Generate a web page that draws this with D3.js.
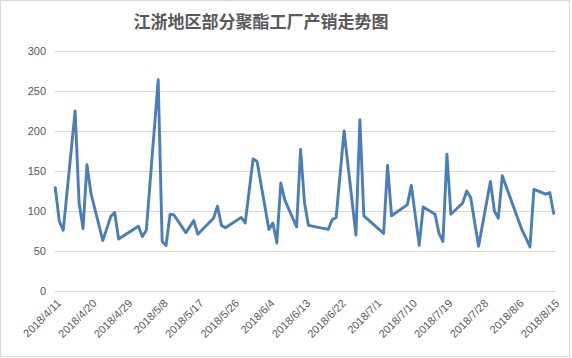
<!DOCTYPE html>
<html><head><meta charset="utf-8">
<script src="https://cdn.jsdelivr.net/npm/d3@7"></script>
<style>body{margin:0;background:#fff}</style>
</head><body>
<svg id="c" width="572" height="358"></svg>
<script>
const title = "江浙地区部分聚酯工厂产销走势图";
const dates = ["2018-04-11","2018-04-11","2018-04-12","2018-04-13","2018-04-16","2018-04-17","2018-04-18","2018-04-19","2018-04-20","2018-04-23","2018-04-25","2018-04-26","2018-04-27","2018-05-02","2018-05-03","2018-05-04","2018-05-07","2018-05-08","2018-05-09","2018-05-10","2018-05-11","2018-05-14","2018-05-16","2018-05-17","2018-05-21","2018-05-22","2018-05-23","2018-05-24","2018-05-28","2018-05-29","2018-05-31","2018-06-01","2018-06-04","2018-06-05","2018-06-06","2018-06-07","2018-06-08","2018-06-11","2018-06-12","2018-06-13","2018-06-14","2018-06-19","2018-06-20","2018-06-21","2018-06-23","2018-06-26","2018-06-27","2018-06-28","2018-07-03","2018-07-04","2018-07-05","2018-07-09","2018-07-10","2018-07-12","2018-07-13","2018-07-16","2018-07-17","2018-07-18","2018-07-19","2018-07-20","2018-07-23","2018-07-24","2018-07-25","2018-07-27","2018-07-30","2018-07-31","2018-08-01","2018-08-02","2018-08-07","2018-08-08","2018-08-09","2018-08-10","2018-08-13","2018-08-14","2018-08-15"];
const values = [124,129,87,76,225,110,78,158,122,63,93,98,65,81,68,76,264,62,57,96,95,73,88,71,91,106,82,79,92,85,165,162,77,85,60,135,114,80,177,110,82,77,89,92,200,70,214,94,72,157,94,108,132,57,105,96,72,62,171,96,110,125,117,56,137,100,91,144,76,66,55,127,121,123,97];
const xTickLabels = ["2018/4/11","2018/4/20","2018/4/29","2018/5/8","2018/5/17","2018/5/26","2018/6/4","2018/6/13","2018/6/22","2018/7/1","2018/7/10","2018/7/19","2018/7/28","2018/8/6","2018/8/15"];
const yTicks = [0,50,100,150,200,250,300];

const parse = s => { const [y,m,d] = s.split(/[-\/]/).map(Number); return new Date(Date.UTC(y,m-1,d)); };
const data = dates.map((d,i)=>({date:parse(d), v:values[i]}));
const svg = d3.select("#c");
const font = "'Liberation Sans', Arial, sans-serif";

svg.append("rect").attr("x",0.5).attr("y",0.5).attr("width",569).attr("height",356)
  .attr("fill","#fff").attr("stroke","#d9d9d9");

const x = d3.scaleUtc().domain([parse(xTickLabels[0]), parse(xTickLabels[xTickLabels.length-1])]).range([55.35,553.7]);
const y = d3.scaleLinear().domain([0,300]).range([291,51]);

// gridlines
svg.append("g").selectAll("line").data(yTicks).join("line")
  .attr("x1",55).attr("x2",556).attr("y1",d=>y(d)).attr("y2",d=>y(d))
  .attr("stroke","#d9d9d9").attr("stroke-width",1).attr("shape-rendering","crispEdges");

// y axis labels
const yAxis = d3.axisLeft(y).tickValues(yTicks).tickSize(0).tickPadding(0);
const gy = svg.append("g").attr("transform","translate(46,0)").call(yAxis);
gy.select(".domain").remove();
gy.selectAll("text").attr("font-family",font).attr("font-size",11).attr("fill","#595959");

// x axis labels
const xAxis = d3.axisBottom(x).tickValues(xTickLabels.map(parse)).tickSize(0).tickFormat((d,i)=>xTickLabels[i]);
const gx = svg.append("g").attr("transform","translate(0,291)").call(xAxis);
gx.select(".domain").remove();
gx.selectAll(".tick text").attr("font-family",font).attr("font-size",11).attr("fill","#595959")
  .attr("text-anchor","end").attr("dy",0).attr("y",0)
  .attr("transform","translate(6,13) rotate(-45)");

// line
const line = d3.line().x(d=>x(d.date)).y(d=>y(d.v));
svg.append("path").datum(data).attr("d",line).attr("fill","none")
  .attr("stroke","#4a7ebb").attr("stroke-width",2.9).attr("stroke-linejoin","round").attr("stroke-linecap","round");

// title
svg.append("text").attr("x",261).attr("y",28).attr("text-anchor","middle")
  .attr("font-family","'Noto Sans CJK SC', sans-serif").attr("font-size",17).attr("font-weight","bold")
  .attr("fill","#595959").text(title);
</script>
</body></html>
